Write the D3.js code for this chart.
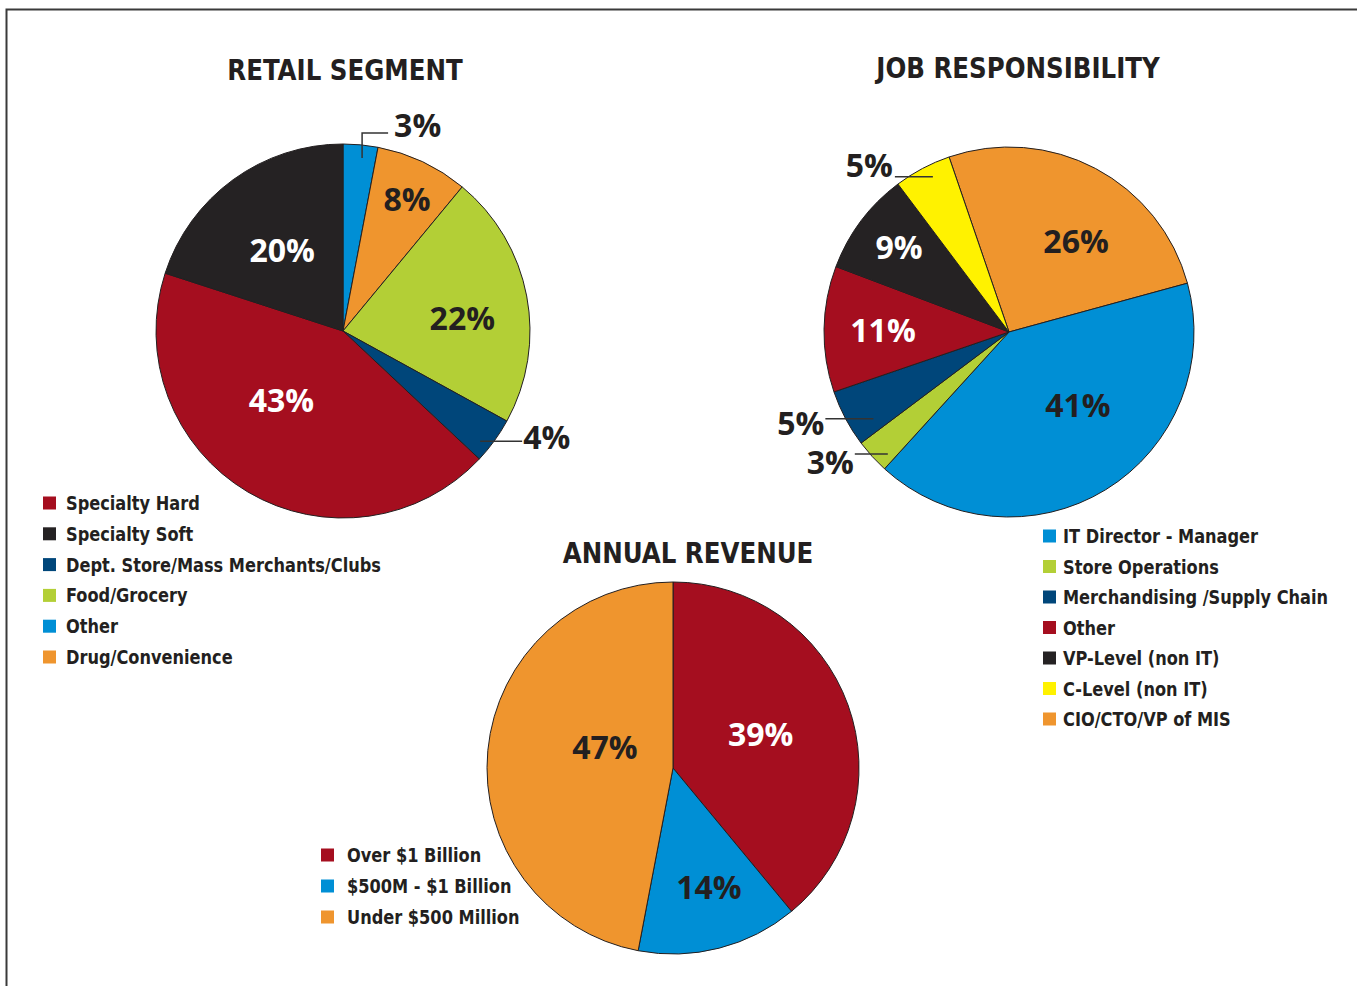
<!DOCTYPE html>
<html>
<head>
<meta charset="utf-8">
<script src="https://cdn.jsdelivr.net/npm/d3@7"></script>
<style>
  body { margin: 0; background: #fff; }
  .title { font-family: "DejaVu Sans Condensed", "DejaVu Sans", sans-serif; font-weight: bold; fill: #231f20; }
  .pct { font-family: "Open Sans", sans-serif; font-weight: 700; }
  .legend text { font-family: "DejaVu Sans Condensed", "DejaVu Sans", sans-serif; font-weight: bold; fill: #231f20; font-size: 20px; }
</style>
</head>
<body>
<div id="chart"></div>
<script>
const width = 1357
const height = 986

// datos
const retailCats = ["Other", "Drug/Convenience", "Food/Grocery", "Dept. Store/Mass Merchants/Clubs", "Specialty Hard", "Specialty Soft"]
const retailVals = [3, 8, 22, 4, 43, 20]
const retailLegend = ["Specialty Hard", "Specialty Soft", "Dept. Store/Mass Merchants/Clubs", "Food/Grocery", "Other", "Drug/Convenience"]

const jobCats = ["CIO/CTO/VP of MIS", "IT Director - Manager", "Store Operations", "Merchandising /Supply Chain", "Other", "VP-Level (non IT)", "C-Level (non IT)"]
const jobVals = [26, 41, 3, 5, 11, 9, 5]
const jobLegend = ["IT Director - Manager", "Store Operations", "Merchandising /Supply Chain", "Other", "VP-Level (non IT)", "C-Level (non IT)", "CIO/CTO/VP of MIS"]

const revCats = ["Over $1 Billion", "$500M - $1 Billion", "Under $500 Million"]
const revVals = [39, 14, 47]
const revLegend = ["Over $1 Billion", "$500M - $1 Billion", "Under $500 Million"]

// colores
const RED = "#a50e1f", BLACK = "#252223", NAVY = "#00467a", GREEN = "#b3cf36",
      BLUE = "#008fd5", ORANGE = "#ef952e", YELLOW = "#fff200"
const retailColor = d3.scaleOrdinal().domain(retailCats).range([BLUE, ORANGE, GREEN, NAVY, RED, BLACK])
const jobColor = d3.scaleOrdinal().domain(jobCats).range([ORANGE, BLUE, GREEN, NAVY, RED, BLACK, YELLOW])
const revColor = d3.scaleOrdinal().domain(revCats).range([RED, BLUE, ORANGE])

const svg = d3.select("#chart").append("svg")
    .attr("width", width)
    .attr("height", height)

// marco
svg.append("path")
    .attr("d", `M6.5,${height + 5} V9.5 H${width + 5}`)
    .attr("fill", "none")
    .attr("stroke", "#3a3a3a")
    .attr("stroke-width", 2)

const deg = Math.PI / 180
const pt = (r, a) => [r * Math.sin(a * deg), -r * Math.cos(a * deg)]

function drawPie(cfg) {
    const data = cfg.cats.map((c, i) => ({ cat: c, value: cfg.vals[i] }))
    const pie = d3.pie().sort(null).value(d => d.value)
        .startAngle(cfg.start * deg).endAngle(cfg.start * deg + 2 * Math.PI)
    const arc = d3.arc().innerRadius(0).outerRadius(cfg.r)
    const g = svg.append("g").attr("transform", `translate(${cfg.cx}, ${cfg.cy})`)

    const arcs = pie(data)
    g.selectAll("path.slice").data(arcs).join("path")
        .attr("class", "slice")
        .attr("d", arc)
        .attr("fill", d => cfg.color(d.data.cat))
        .attr("stroke", "#231f20")
        .attr("stroke-width", 1)

    // etiquetas
    arcs.forEach((d, i) => {
        const L = cfg.labels[i]
        const mid = (d.startAngle + d.endAngle) / 2 / deg
        const txt = d.data.value + "%"
        if (!L.leader) {
            const p = pt(L.r, mid + L.da)
            g.append("text").attr("class", "pct")
                .attr("x", p[0]).attr("y", p[1])
                .attr("dy", "0.36em")
                .attr("text-anchor", "middle")
                .attr("font-size", 32)
                .attr("fill", L.fill || "#231f20")
                .text(txt)
        } else {
            const p = pt(L.r, mid + L.da)
            const y2 = p[1] - (L.rise || 0)
            const x2 = p[0] + L.len
            g.append("path")
                .attr("d", `M${p[0]},${p[1]} V${y2} H${x2}`)
                .attr("fill", "none")
                .attr("stroke", "#333")
                .attr("stroke-width", 1.5)
            g.append("text").attr("class", "pct")
                .attr("x", x2 + (L.len > 0 ? L.gap : -L.gap))
                .attr("y", y2 + L.dy)
                .attr("text-anchor", L.len > 0 ? "start" : "end")
                .attr("font-size", 32)
                .attr("font-weight", 600)
                .attr("fill", "#231f20")
                .text(txt)
        }
    })

    svg.append("text").attr("class", "title")
        .attr("transform", `translate(${cfg.tx}, ${cfg.ty}) scale(0.94, 1)`)
        .attr("text-anchor", "middle")
        .attr("font-size", 29)
        .text(cfg.title)

    // leyenda
    const lg = svg.append("g").attr("class", "legend")
        .attr("transform", `translate(${cfg.lx}, ${cfg.ly})`)
    const rows = lg.selectAll("g").data(cfg.legend).join("g")
        .attr("transform", (d, i) => `translate(0, ${i * cfg.lstep})`)
    rows.append("rect")
        .attr("x", 0).attr("y", -6.5)
        .attr("width", 13).attr("height", 13)
        .attr("fill", d => cfg.color(d))
    rows.append("text")
        .attr("transform", `translate(${cfg.ltx}, 0) scale(0.9, 1)`)
        .attr("dy", "0.35em")
        .text(d => d)
}

drawPie({
    title: "RETAIL SEGMENT", tx: 345, ty: 80,
    cats: retailCats, vals: retailVals, color: retailColor,
    cx: 343, cy: 331, r: 187, start: 0,
    labels: [
        { leader: true, r: 174, da: 0.9, rise: 25, len: 26, gap: 6, dy: 4 },
        { r: 146, da: 0.8 },
        { r: 120, da: 4.6 },
        { leader: true, r: 176, da: 2.8, rise: 0, len: 42, gap: 1, dy: 8 },
        { r: 93, da: 10.9, fill: "#fff" },
        { r: 101, da: -1, fill: "#fff" }
    ],
    legend: retailLegend, lx: 43, ly: 503, lstep: 30.8, ltx: 23
})

drawPie({
    title: "JOB RESPONSIBILITY", tx: 1018, ty: 78,
    cats: jobCats, vals: jobVals, color: jobColor,
    cx: 1009, cy: 332, r: 185, start: -18.9,
    labels: [
        { r: 113, da: 8.5 },
        { r: 101, da: -11.5 },
        { leader: true, r: 172, da: -2.9, rise: 0, len: -33, gap: 1, dy: 20 },
        { leader: true, r: 161, da: -4.7, rise: 0, len: -48, gap: 1, dy: 16 },
        { r: 126, da: -0.4, fill: "#fff" },
        { r: 139, da: 0.8, fill: "#fff" },
        { leader: true, r: 173, da: 1.8, rise: 0, len: -38, gap: 2, dy: 0 }
    ],
    legend: jobLegend, lx: 1043, ly: 536, lstep: 30.5, ltx: 20
})

drawPie({
    title: "ANNUAL REVENUE", tx: 688, ty: 563,
    cats: revCats, vals: revVals, color: revColor,
    cx: 673, cy: 768, r: 186, start: 0,
    labels: [
        { r: 94, da: -1.3, fill: "#fff" },
        { r: 125, da: -2.3 },
        { r: 71, da: 11 }
    ],
    legend: revLegend, lx: 321, ly: 855, lstep: 31, ltx: 26
})
</script>
</body>
</html>
